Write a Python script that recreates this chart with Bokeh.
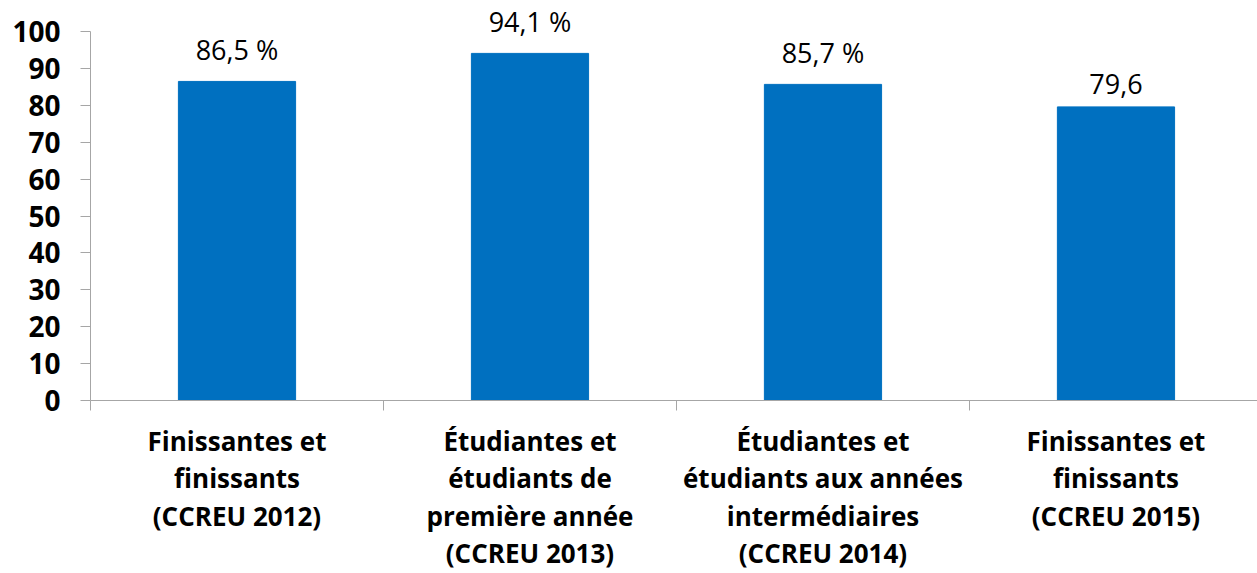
from bokeh.plotting import figure
from bokeh.models import FixedTicker, Range1d, ColumnDataSource
from bokeh.core.properties import value
from bokeh.embed import file_html
from bokeh.resources import INLINE

categories = [
    "Finissantes et\nfinissants\n(CCREU 2012)",
    "Étudiantes et\nétudiants de\npremière année\n(CCREU 2013)",
    "Étudiantes et\nétudiants aux années\nintermédiaires\n(CCREU 2014)",
    "Finissantes et\nfinissants\n(CCREU 2015)",
]
values = [86.5, 94.1, 85.7, 79.6]
value_labels = ["86,5 %", "94,1 %", "85,7 %", "79,6"]
y_ticks = [0, 10, 20, 30, 40, 50, 60, 70, 80, 90, 100]

positions = [i + 0.5 for i in range(len(categories))]
source = ColumnDataSource(dict(x=positions, top=values, lab=value_labels))

AXIS_GRAY = "#A6A6A6"
FONT = "Open Sans"

p = figure(frame_width=1167, frame_height=391, output_backend="svg", toolbar_location=None,
           x_range=Range1d(0, 3.983), y_range=Range1d(0, 106),
           min_border_left=90, min_border_right=0, min_border_top=9, min_border_bottom=0)
p.outline_line_color = None
p.background_fill_color = "white"
p.border_fill_color = "white"
p.xgrid.visible = False
p.ygrid.visible = False

p.vbar(x="x", top="top", width=0.4, bottom=0, source=source,
       fill_color="#0070C0", line_color="#0070C0")
p.text(x="x", y="top", text="lab", source=source, text_align="center",
       text_baseline="bottom", y_offset=-13, text_font=value(FONT),
       text_font_size="27px", text_color="black")

# y axis
ya = p.yaxis[0]
ya.ticker = FixedTicker(ticks=y_ticks)
ya.bounds = (0, 100)
ya.axis_line_color = AXIS_GRAY
ya.major_tick_line_color = AXIS_GRAY
ya.major_tick_in = 0
ya.major_tick_out = 10
ya.minor_tick_line_color = None
ya.major_label_standoff = 20
ya.major_label_text_font = FONT
ya.major_label_text_font_style = "bold"
ya.major_label_text_font_size = "28px"
ya.major_label_text_color = "black"

# x axis
xa = p.xaxis[0]
xa.ticker = FixedTicker(ticks=positions, minor_ticks=[0, 1, 2, 3, 4])
xa.major_label_overrides = {pos: cat for pos, cat in zip(positions, categories)}
xa.axis_line_color = AXIS_GRAY
xa.major_tick_line_color = None
xa.major_tick_in = 0
xa.major_tick_out = 10
xa.minor_tick_line_color = AXIS_GRAY
xa.minor_tick_in = 0
xa.minor_tick_out = 10
xa.major_label_standoff = 12
xa.major_label_text_font = FONT
xa.major_label_text_font_style = "bold"
xa.major_label_text_font_size = "26px"
xa.major_label_text_color = "black"
xa.major_label_text_line_height = 1.045

open("out.html", "w").write(file_html(p, INLINE))
